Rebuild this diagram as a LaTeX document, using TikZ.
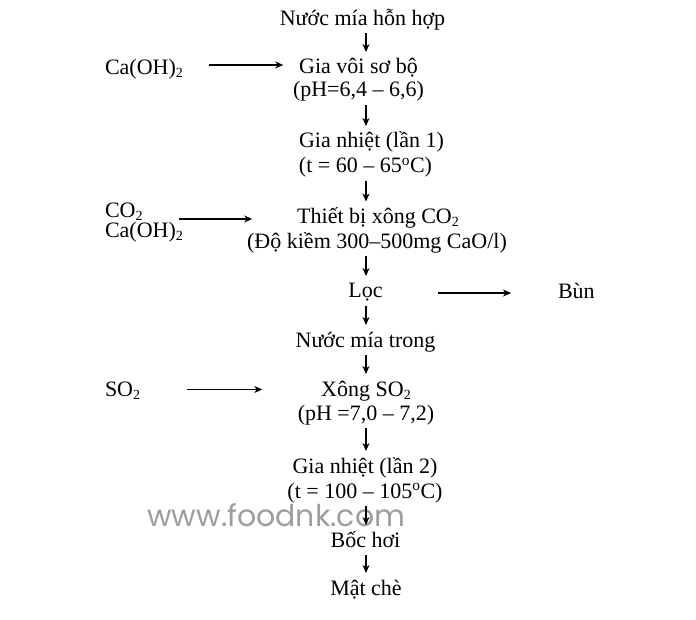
\documentclass[tikz,border=0pt]{standalone}
\usepackage{fontspec}
\setmainfont{Liberation Serif}
\newfontfamily\wmfont{Poppins}
\usetikzlibrary{arrows.meta,calc}
\newcommand{\dgc}{\textsuperscript{o}C}
\newcommand{\lowsub}[1]{\raisebox{-3pt}{\fontsize{14}{14}\selectfont #1}}
\begin{document}
\begin{tikzpicture}[x=1pt,y=-1pt,
  lbl/.style={inner sep=0pt, outer sep=0pt, font=\fontsize{22}{26}\selectfont, anchor=base},
  side/.style={lbl, anchor=base west},
  flow/.style={-{Stealth[length=8pt,width=7pt,inset=2.5pt]}, line width=1.1pt}]
\useasboundingbox (0,0) rectangle (696,620);
\fill[white] (0,0) rectangle (696,620);
\coordinate (axis) at (366,0);
% watermark
\node[inner sep=0pt, anchor=base west, font=\wmfont\fontsize{30}{30}\selectfont, text=black!38] (wm) at (147,526) {www.foodnk.com};
% main column
\node[lbl] (n0) at (362.5,25.5) {Nước mía hỗn hợp};
\node[lbl] (s1a) at (358.5,74) {Gia vôi sơ bộ};
\node[lbl] (s1b) at (358.5,97) {(pH=6,4 – 6,6)};
\node[lbl] (s2a) at (371.5,148) {Gia nhiệt (lần 1)};
\node[lbl] (s2b) at (365.5,173) {(t = 60 – 65\dgc)};
\node[lbl] (s3a) at (378,223.5) {Thiết bị xông CO\lowsub{2}};
\node[lbl] (s3b) at (377,248.5) {(Độ kiềm 300–500mg CaO/l)};
\node[lbl] (s4) at (365.5,298) {Lọc};
\node[lbl] (s5) at (365.5,347) {Nước mía trong};
\node[lbl] (s6a) at (366,396) {Xông SO\lowsub{2}};
\node[lbl] (s6b) at (366,420) {(pH =7,0 – 7,2)};
\node[lbl] (s7a) at (365,473) {Gia nhiệt (lần 2)};
\node[lbl] (s7b) at (365,498) {(t = 100 – 105\dgc)};
\node[lbl] (s8) at (365.5,547) {Bốc hơi};
\node[lbl] (s9) at (366,595) {Mật chè};
% side inputs / outputs
\node[side] (caoh) at (105,75) {Ca(OH)\lowsub{2}};
\node[side] (co2) at (105,217.5) {CO\lowsub{2}};
\node[side] (caoh2) at (105,238) {Ca(OH)\lowsub{2}};
\node[side] (so2) at (105,396.5) {SO\lowsub{2}};
\node[side] (bun) at (558,298.5) {Bùn};
% vertical flow
\foreach \a/\b in {n0/s1a, s1b/s2a, s2b/s3a, s3b/s4, s4/s5, s5/s6a, s6b/s7a, s7b/s8, s8/s9}
  \draw[flow] ($(\a.base -| axis)+(0,8)$) -- ($(\b.base -| axis)+(0,-22)$);
% horizontal flow
\draw[flow] ($(caoh.base -| caoh.west)+(104,-10)$) -- ($(caoh.base -| s1a.west)+(-16,-10)$);
\draw[flow] ($(co2.base -| co2.west)+(74,1.5)$) -- ($(co2.base -| s3a.west)+(-45,1.5)$);
\draw[flow] ($(s4.base east)+(55,-5)$) -- ($(s4.base -| bun.west)+(-47,-5)$);
\draw[flow] ($(so2.base -| so2.west)+(82,-7)$) -- ($(so2.base -| s6a.west)+(-59,-7)$);
\end{tikzpicture}
\end{document}
